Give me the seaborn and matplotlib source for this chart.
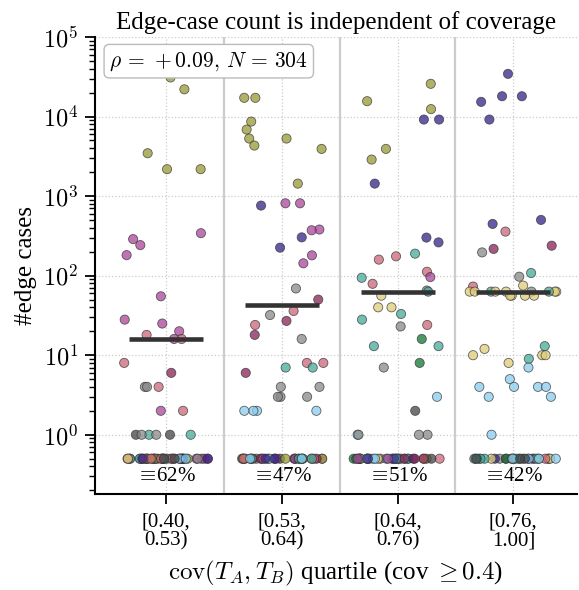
import numpy as np
import pandas as pd
import matplotlib
matplotlib.use("Agg")
import matplotlib.pyplot as plt
import seaborn as sns
from matplotlib.ticker import FuncFormatter, LogLocator

# ---------------- data ----------------
quartile_labels = ["[0.40,\n0.53)", "[0.53,\n0.64)", "[0.64,\n0.76)", "[0.76,\n1.00]"]

q1_vals = [31000, 22000, 3460, 2180, 2180, 342, 288, 242, 181, 55, 28, 25, 20,
           18, 16, 16, 8, 6, 4, 4, 4, 2, 2, 1, 1, 1, 1, 1, 1]
q1_groups = ["olive", "olive", "olive", "olive", "olive", "magenta", "magenta", "magenta",
             "magenta", "magenta", "magenta", "magenta", "magenta", "rose", "rose", "magenta",
             "rose", "wine", "gray", "rose", "gray", "rose", "magenta", "dark", "dark",
             "teal", "teal", "gray", "gray"]
q1_zero_groups = (["magenta"] * 8 + ["wine"] * 7 + ["gray"] * 7 + ["teal"] * 6 + ["olive"] * 6
                  + ["rose"] * 5 + ["indigo"] * 3 + ["cyan"] * 2 + ["dark"] * 2 + ["sand"] * 1)

q2_vals = [17200, 17200, 8650, 6860, 5290, 5290, 4320, 3920, 1436, 812, 812, 760,
           380, 372, 303, 225, 180, 143, 69, 50, 36, 32, 27, 24, 18, 16, 8, 8, 7, 7, 6,
           4, 4, 3, 3, 3, 2, 2, 2, 2]
q2_groups = ["olive", "olive", "olive", "olive", "olive", "olive", "olive", "olive",
             "olive", "magenta", "magenta", "indigo", "magenta", "magenta", "indigo", "indigo",
             "magenta", "magenta", "gray", "wine", "rose", "gray", "wine", "rose", "wine",
             "gray", "rose", "rose", "teal", "teal", "wine", "gray", "gray", "gray", "gray",
             "gray", "cyan", "cyan", "cyan", "cyan"]
q2_zero_groups = (["gray"] * 5 + ["dark"] * 3 + ["magenta"] * 5 + ["olive"] * 5 + ["wine"] * 5
                  + ["rose"] * 4 + ["teal"] * 4 + ["cyan"] * 3 + ["indigo"] * 2)

q3_vals = [25800, 15600, 12400, 9170, 9170, 3920, 2880, 1436, 301, 262, 189, 175, 159, 112,
           96, 94, 79, 65, 63, 56, 40, 40, 33, 28, 24, 23, 16, 13, 13, 8, 7, 3, 2, 1, 1, 1, 1]
q3_groups = ["olive", "olive", "olive", "indigo", "indigo", "olive", "olive", "indigo", "indigo",
             "indigo", "teal", "rose", "rose", "rose", "magenta", "teal", "rose", "gray", "teal",
             "sand", "sand", "sand", "teal", "teal", "rose", "gray", "green", "teal", "teal",
             "green", "gray", "cyan", "dark", "gray", "cyan", "gray", "gray"]
q3_zero_groups = (["rose"] * 4 + ["olive"] * 4 + ["dark"] * 3 + ["gray"] * 5 + ["teal"] * 6
                  + ["sand"] * 3 + ["cyan"] * 4 + ["green"] * 2 + ["indigo"] * 3 + ["wine"] * 3
                  + ["magenta"] * 2)

q4_vals = [34400, 18000, 18000, 15300, 9170, 502, 447, 358, 238, 217, 196, 108, 97, 75, 73,
           63, 63, 63, 63, 63, 63, 63, 63, 56, 56, 56, 56, 13, 12, 10, 10, 10, 9, 8, 7, 5,
           4, 4, 4, 4, 3, 3, 1, 63]
q4_groups = ["indigo", "indigo", "indigo", "indigo", "indigo", "indigo", "indigo", "rose", "wine",
             "wine", "gray", "teal", "gray", "sand", "rose", "sand", "sand", "teal", "gray",
             "sand", "sand", "sand", "sand", "sand", "sand", "sand", "sand", "teal", "sand",
             "sand", "sand", "sand", "teal", "sand", "cyan", "cyan", "cyan", "cyan", "cyan",
             "cyan", "cyan", "cyan", "cyan", "teal"]
q4_zero_groups = (["gray"] * 3 + ["wine"] * 3 + ["green"] * 2 + ["indigo"] * 3 + ["sand"] * 4
                  + ["rose"] * 2 + ["teal"] * 7 + ["cyan"] * 5 + ["dark"] * 3)

rho_value = "+0.09"
zero_plot_value = 0.5

palette = {"olive": "#999933", "magenta": "#AA4499", "rose": "#CC6677", "wine": "#882255",
           "gray": "#888888", "dark": "#444444", "teal": "#44AA99", "cyan": "#88CCEE",
           "indigo": "#332288", "sand": "#DDCC77", "green": "#117733"}

# ---------------- assemble ----------------
rows = []
all_vals = [q1_vals, q2_vals, q3_vals, q4_vals]
all_groups = [q1_groups, q2_groups, q3_groups, q4_groups]
all_zero = [q1_zero_groups, q2_zero_groups, q3_zero_groups, q4_zero_groups]
for lab, vals, grps, zg in zip(quartile_labels, all_vals, all_groups, all_zero):
    for v, g in zip(vals, grps):
        rows.append((lab, v, g))
    for g in zg:
        rows.append((lab, 0, g))
df = pd.DataFrame(rows, columns=["quartile", "edges", "group"])
df["plot_val"] = np.where(df["edges"] == 0, zero_plot_value, df["edges"])

# ---------------- style ----------------
sns.set_style("ticks")
plt.rcParams["font.family"] = ["Liberation Serif", "DejaVu Serif"]
plt.rcParams["mathtext.fontset"] = "cm"
for k in ["text.color", "axes.labelcolor", "xtick.color", "ytick.color", "axes.edgecolor"]:
    plt.rcParams[k] = "black"

fig = plt.figure(figsize=(5.79, 5.90), dpi=100)
ax = fig.add_axes([95 / 579, 1 - 494 / 590, (577 - 95) / 579, (494 - 37) / 590])

np.random.seed(3)
sns.stripplot(data=df, x="quartile", y="plot_val", hue="group", palette=palette,
              order=quartile_labels, jitter=0.38, size=6.6, alpha=0.75,
              edgecolor="#333333", linewidth=0.6, legend=False, ax=ax, zorder=3)

ax.set_yscale("log")
ax.set_ylim(0.18, 1e5)
ax.set_xlim(-0.614, 3.55)

# separators
for xs in [0.5, 1.5, 2.5]:
    ax.axvline(xs, color="#cccccc", lw=1.6, zorder=1)

ax.grid(True, which="major", linestyle=":", color="#cccccc", lw=0.9, zorder=0)
ax.set_axisbelow(True)

# medians and zero shares
for i, lab in enumerate(quartile_labels):
    sub = df[df["quartile"] == lab]
    nz = sub.loc[sub["edges"] > 0, "edges"]
    med = np.median(nz)
    ax.hlines(med, i - 0.32, i + 0.32, color="#333333", lw=3.3, zorder=6)
    pct = 100 * (sub["edges"] == 0).mean()
    ax.text(i, 0.3, r"$\equiv\!$" + f"{pct:.0f}%", ha="center", va="center", fontsize=15,
            zorder=7)

N = len(df)
ax.text(0.03, 0.972, r"$\rho\,=\,%s,\,N\,=\,%d$" % (rho_value, N), transform=ax.transAxes,
        ha="left", va="top", fontsize=15.5, zorder=8,
        bbox=dict(boxstyle="round,pad=0.25", fc="white", ec="#bbbbbb", lw=1.0))

ax.yaxis.set_major_locator(LogLocator(base=10, numticks=10))
ax.yaxis.set_minor_locator(LogLocator(base=10, subs=np.arange(2, 10), numticks=10))
ax.yaxis.set_major_formatter(FuncFormatter(lambda v, p: r"$10^{%d}$" % round(np.log10(v))))
ax.tick_params(axis="y", which="major", length=7, width=1.3, labelsize=17.5, pad=5)
ax.tick_params(axis="y", which="minor", length=4, width=1.0)
ax.tick_params(axis="x", which="major", length=7, width=1.3, labelsize=15, pad=6)
for lbl in ax.get_xticklabels():
    lbl.set_linespacing(1.0)

for s in ["top", "right"]:
    ax.spines[s].set_visible(False)
for s in ["left", "bottom"]:
    ax.spines[s].set_linewidth(1.5)

ax.set_ylabel("#edge cases", fontsize=18, labelpad=4)
ax.set_xlabel(r"$\mathrm{cov}(T_A, T_B)$ quartile (cov $\geq 0.4$)", fontsize=18, labelpad=6)
ax.set_title("Edge-case count is independent of coverage", fontsize=18, pad=6)

fig.savefig("out.png", dpi=100)
